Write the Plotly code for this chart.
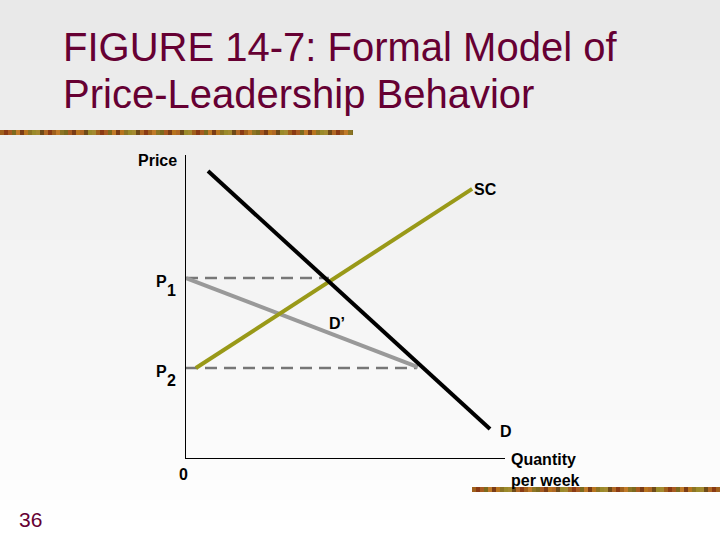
import plotly.graph_objects as go

# ---------------- data ----------------
demand_q = [0.69, 9.53]
demand_p = [9.47, 0.96]
supply_q = [0.31, 8.97]
supply_p = [2.97, 8.88]
dprime_q = [0.0, 7.27]
dprime_p = [5.94, 3.0]
P1 = 5.94
P2 = 2.97
p1_dash_q = [0.0, 4.48]
p2_dash_q = [0.0, 7.24]
price_labels = ["P", "P"]
price_subs = ["1", "2"]
price_vals = [P1, P2]

TITLE1 = "FIGURE 14-7: Formal Model of"
TITLE2 = "Price-Leadership Behavior"
PAGE = "36"

# ---------------- layout helpers (pixel geometry) ----------------
W, H = 720, 540
L, R, T, B = 186, 505, 155, 458


def px(x):
    return (x - L) / (R - L)


def py(y):
    return (B - y) / (B - T)


FONT = "Liberation Sans, Arial, sans-serif"
MAROON = "#660033"

fig = go.Figure()

fig.add_trace(go.Scatter(x=p1_dash_q, y=[P1, P1], mode="lines",
                         line=dict(color="#777777", width=2.5, dash="12px,7px"),
                         hoverinfo="skip", showlegend=False))
fig.add_trace(go.Scatter(x=p2_dash_q, y=[P2, P2], mode="lines",
                         line=dict(color="#777777", width=2.5, dash="12px,7px"),
                         hoverinfo="skip", showlegend=False))
fig.add_trace(go.Scatter(x=dprime_q, y=dprime_p, mode="lines",
                         line=dict(color="#999999", width=4),
                         hoverinfo="skip", showlegend=False))
fig.add_trace(go.Scatter(x=supply_q, y=supply_p, mode="lines",
                         line=dict(color="#999918", width=4),
                         hoverinfo="skip", showlegend=False))
fig.add_trace(go.Scatter(x=demand_q, y=demand_p, mode="lines",
                         line=dict(color="#000000", width=4),
                         hoverinfo="skip", showlegend=False))

shapes = []
# background gradient (top grey -> bottom white)
n = 27
for i in range(n):
    g = int(233 + (255 - 233) * i / (n - 1))
    col = f"rgb({g},{g},{g})"
    y0 = i * H / n
    y1 = (i + 1) * H / n + 1
    shapes.append(dict(type="rect", xref="paper", yref="paper",
                       x0=px(0), x1=px(W), y0=py(y1), y1=py(y0),
                       fillcolor=col, line=dict(width=0), layer="below"))

# decorative textured bars (mottled brown / olive / orange)
bar_cols = ["#a0601c", "#7c6a1e", "#b8741e", "#8a3a14", "#9a8a2a", "#c07a28",
            "#6e4a18", "#a85a20", "#8c7424", "#b06824", "#7a3c16", "#a48a30"]
bar_order = [0, 3, 7, 1, 5, 10, 2, 8, 4, 11, 6, 9, 3, 0, 5, 8, 1, 7, 10, 2, 9, 6, 4, 11]


def deco_bar(x0, x1, y0, y1):
    seg = 4
    k = 0
    x = x0
    while x < x1:
        xe = min(x + seg, x1)
        shapes.append(dict(type="rect", xref="paper", yref="paper",
                           x0=px(x), x1=px(xe), y0=py(y1), y1=py(y0),
                           fillcolor=bar_cols[bar_order[k % len(bar_order)]],
                           line=dict(width=0), layer="below"))
        k += 1
        x = xe


deco_bar(0, 353, 130, 135)
deco_bar(472, 720, 487, 492)

annotations = []


def ann(text, x, y, size=16, color="#000000", xanchor="center", bold=True, align="center"):
    annotations.append(dict(text=(f"<b>{text}</b>" if bold else text), x=x, y=y,
                            xref="paper", yref="paper", showarrow=False,
                            xanchor=xanchor, yanchor="middle", align=align,
                            font=dict(family=FONT, size=size, color=color)))


# title
ann(TITLE1, px(61), py(47), size=40, color=MAROON, xanchor="left", bold=False)
ann(TITLE2, px(61), py(94), size=40, color=MAROON, xanchor="left", bold=False)
ann(PAGE, px(30), py(519), size=21, color=MAROON, bold=False)

# axis labels
ann("Price", px(157), py(160))
ann("0", px(183), py(474))
ann("Quantity<br>per week", px(509), py(470), xanchor="left", align="left")

# price level labels
for lab, sub, v in zip(price_labels, price_subs, price_vals):
    annotations.append(dict(text=f"<b>{lab}</b>", x=px(161), y=v, xref="paper", yref="y",
                            yshift=-3, showarrow=False, xanchor="center", yanchor="middle",
                            font=dict(family=FONT, size=16, color="#000")))
    annotations.append(dict(text=f"<b>{sub}</b>", x=px(171), y=v, xref="paper", yref="y",
                            yshift=-12, showarrow=False, xanchor="center", yanchor="middle",
                            font=dict(family=FONT, size=16, color="#000")))

# curve labels
annotations.append(dict(text="<b>SC</b>", x=supply_q[-1], y=supply_p[-1], xref="x", yref="y",
                        xshift=0, yshift=-1, showarrow=False, xanchor="left", yanchor="middle",
                        font=dict(family=FONT, size=16, color="#000")))
annotations.append(dict(text="<b>D</b>", x=demand_q[-1], y=demand_p[-1], xref="x", yref="y",
                        xshift=8, yshift=-3, showarrow=False, xanchor="left", yanchor="middle",
                        font=dict(family=FONT, size=16, color="#000")))
annotations.append(dict(text="<b>D’</b>", x=px(337), y=py(323), xref="paper", yref="paper",
                        showarrow=False, xanchor="center", yanchor="middle",
                        font=dict(family=FONT, size=16, color="#000")))

fig.update_layout(
    width=W, height=H,
    margin=dict(l=L, r=W - R, t=T, b=H - B, pad=0, autoexpand=False),
    paper_bgcolor="#ffffff",
    plot_bgcolor="rgba(0,0,0,0)",
    shapes=shapes,
    annotations=annotations,
    showlegend=False,
    xaxis=dict(range=[0, 10], showgrid=False, zeroline=False, showticklabels=False,
               ticks="", showline=True, linecolor="#000", linewidth=1.2, fixedrange=True),
    yaxis=dict(range=[0, 10], showgrid=False, zeroline=False, showticklabels=False,
               ticks="", showline=True, linecolor="#000", linewidth=1.2, fixedrange=True),
)

fig.write_html("out.html", config=dict(displayModeBar=False),
               post_script="document.body.style.margin='0';document.body.style.padding='0';")
